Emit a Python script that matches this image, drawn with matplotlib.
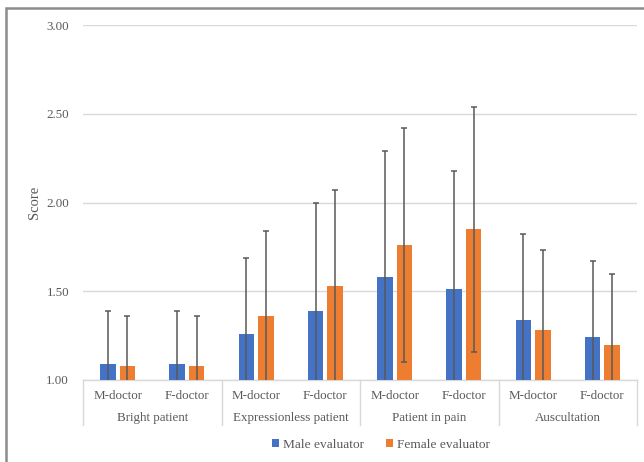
import matplotlib
matplotlib.use("Agg")
import matplotlib.pyplot as plt
import numpy as np

plt.rcParams['font.family'] = ['Liberation Serif', 'DejaVu Serif']

doctors = ["M-doctor", "F-doctor"] * 4
groups = ["Bright patient", "Expressionless patient", "Patient in pain", "Auscultation"]

male = [1.09, 1.09, 1.26, 1.39, 1.58, 1.51, 1.34, 1.24]
male_sd = [0.30, 0.30, 0.43, 0.61, 0.71, 0.67, 0.48, 0.43]
female = [1.08, 1.08, 1.36, 1.53, 1.76, 1.85, 1.28, 1.20]
female_sd = [0.28, 0.28, 0.48, 0.54, 0.66, 0.69, 0.45, 0.40]

yticks = [1.0, 1.5, 2.0, 2.5, 3.0]

txt = "#595959"
grid = "#d9d9d9"

fig = plt.figure(figsize=(6.44, 4.62), dpi=100)
ax = fig.add_axes([83 / 644, 1 - 380 / 462, 554 / 644, 355 / 462])

x = np.arange(len(male))
w = 0.225
err_kw = dict(ecolor="#595959", elinewidth=1.1, capsize=2.2, capthick=1.1)
ax.bar(x - 0.14, male, w, bottom=0, color="#4472C4", label="Male evaluator",
       yerr=male_sd, error_kw=err_kw, zorder=3)
ax.bar(x + 0.14, female, w, bottom=0, color="#ED7D31", label="Female evaluator",
       yerr=female_sd, error_kw=err_kw, zorder=3)

ax.set_xlim(-0.5, len(male) - 0.5)
ax.set_ylim(1.0, 3.0)
ax.set_yticks(yticks)
ax.set_yticklabels([f"{v:.2f}" for v in yticks], color=txt, fontsize=9.4)
ax.tick_params(axis="y", length=0, pad=10)
ax.set_xticks([])
ax.grid(axis="y", color=grid, linewidth=1.0, zorder=0)
ax.set_axisbelow(True)
for s in ["left", "right", "top"]:
    ax.spines[s].set_visible(False)
ax.spines["bottom"].set_color(grid)
ax.spines["bottom"].set_linewidth(1.0)

ax.set_ylabel("Score", color=txt, fontsize=10.5, labelpad=4)

# category labels under the axis
trans = ax.get_xaxis_transform()
for i, d in enumerate(doctors):
    ax.text(i, -16 / 355, d, transform=trans, ha="center", va="center",
            color=txt, fontsize=9.4)
for g, name in enumerate(groups):
    ax.text(2 * g + 0.5, -38 / 355, name, transform=trans, ha="center", va="center",
            color=txt, fontsize=9.4)
for b in np.arange(-0.5, len(male), 2):
    ax.plot([b, b], [0, -45 / 355], transform=trans, color=grid, linewidth=1.0,
            clip_on=False)

leg = fig.legend(loc="center", bbox_to_anchor=(381 / 644, 1 - 445 / 462), ncol=2,
                 frameon=False, fontsize=9.6, handlelength=0.55, handleheight=0.55,
                 handletextpad=0.3, columnspacing=1.6)
for t in leg.get_texts():
    t.set_color(txt)

# outer chart frame
fig.patches.append(plt.Rectangle((6 / 644, -0.05), 1.2, 1 - 8 / 462 + 0.05,
                                 transform=fig.transFigure, fill=False,
                                 edgecolor="#8c8c8c", linewidth=1.8))

fig.savefig("out.png", dpi=100)
